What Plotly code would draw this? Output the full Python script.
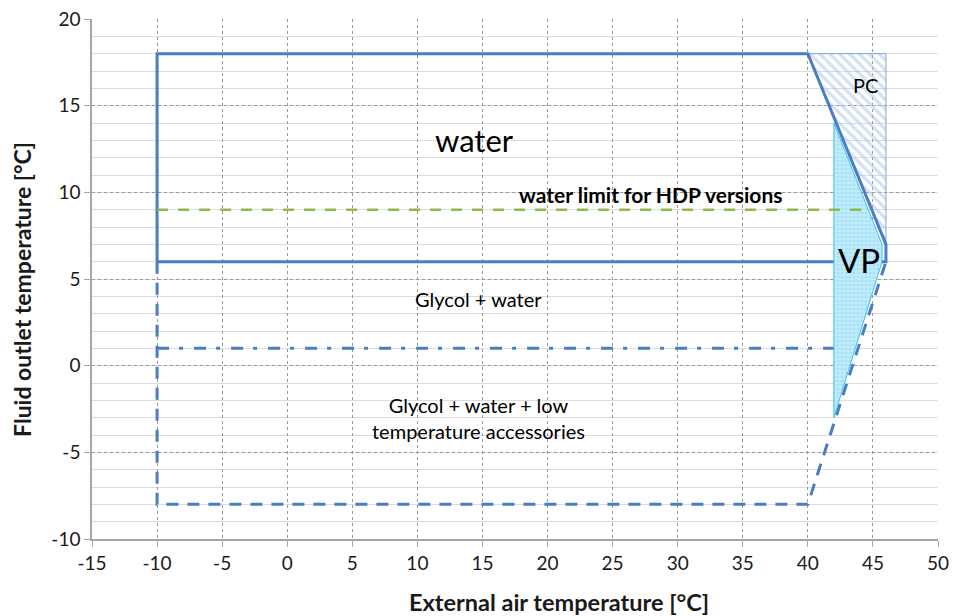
import plotly.graph_objects as go

# Operating envelope outlines (x: external air temp °C, y: fluid outlet temp °C)
water_x = [-10, -10, 40, 46, 46, -10]
water_y = [6, 18, 18, 7, 6, 6]

glycol_x = [-10, -10, 40, 46]
glycol_y = [6, -8, -8, 6]

glycol_limit_x = [-10, 42]
glycol_limit_y = [1, 1]

hdp_x = [-10, 44.9]
hdp_y = [9, 9]

pc_x = [40, 46, 46, 40]
pc_y = [18, 18, 7, 18]

vp_x = [42, 45.7, 45.7, 42, 42]
vp_y = [14, 7, 6, -3, 14]

x_ticks = [-15, -10, -5, 0, 5, 10, 15, 20, 25, 30, 35, 40, 45, 50]
y_ticks = [-10, -5, 0, 5, 10, 15, 20]

labels = [
    dict(text="water", x=14.4, y=13.0, size=31),
    dict(text="<b>water limit for HDP versions</b>", x=27.96, y=9.85, size=21),
    dict(text="PC", x=44.4, y=16.2, size=20),
    dict(text="VP", x=43.9, y=6.1, size=33),
    dict(text="Glycol + water", x=14.7, y=3.85, size=20),
    dict(text="Glycol + water + low<br>temperature accessories", x=14.7, y=-3.0, size=20),
]

BLUE = "#4A7EC2"
FONT = "Lato"

fig = go.Figure()

# PC hatched area
fig.add_trace(go.Scatter(
    x=pc_x, y=pc_y, mode="lines", fill="toself",
    line=dict(color="#7FA7DA", width=1),
    fillcolor="rgba(255,255,255,0)",
    fillpattern=dict(shape="\\", fgcolor="#A9C2E8", bgcolor="rgba(255,255,255,0)", size=7, solidity=0.45),
    hoverinfo="skip", showlegend=False))

# Water envelope
fig.add_trace(go.Scatter(
    x=water_x, y=water_y, mode="lines",
    line=dict(color=BLUE, width=3), hoverinfo="skip", showlegend=False))

# Glycol envelope (dashed)
fig.add_trace(go.Scatter(
    x=glycol_x, y=glycol_y, mode="lines",
    line=dict(color=BLUE, width=3, dash="12px,9px"), hoverinfo="skip", showlegend=False))

# Glycol + water limit (dash-dot)
fig.add_trace(go.Scatter(
    x=glycol_limit_x, y=glycol_limit_y, mode="lines",
    line=dict(color=BLUE, width=3, dash="12px,10px,4px,11px"), hoverinfo="skip", showlegend=False))

# VP dotted area
fig.add_trace(go.Scatter(
    x=vp_x, y=vp_y, mode="lines", fill="toself",
    line=dict(color="#3CC0EE", width=1),
    fillcolor="#B3E6F9",
    fillpattern=dict(shape=".", fgcolor="#86D6F3", bgcolor="#C4ECFB", size=4, solidity=0.45),
    hoverinfo="skip", showlegend=False))

# HDP water limit
fig.add_trace(go.Scatter(
    x=hdp_x, y=hdp_y, mode="lines",
    line=dict(color="#8DBA4A", width=2.5, dash="11px,10px"), hoverinfo="skip", showlegend=False))

for lb in labels:
    fig.add_annotation(x=lb["x"], y=lb["y"], text=lb["text"], showarrow=False,
                       font=dict(family=FONT, size=lb["size"], color="#000000"),
                       align="center", xanchor="center", yanchor="middle")

# axis titles (placed as in the original)
fig.add_annotation(xref="paper", yref="paper", x=0.552, y=0, yshift=-63,
                   text="<b>External air temperature [°C]</b>", showarrow=False,
                   font=dict(family=FONT, size=23.5, color="#1a1a1a"),
                   xanchor="center", yanchor="middle")
fig.add_annotation(xref="paper", yref="paper", x=0, xshift=-70, y=0.479,
                   text="<b>Fluid outlet temperature [°C]</b>", showarrow=False, textangle=-90,
                   font=dict(family=FONT, size=23, color="#1a1a1a"),
                   xanchor="center", yanchor="middle")

fig.update_layout(
    width=955, height=616,
    margin=dict(l=92, r=17, t=19, b=77, autoexpand=False),
    plot_bgcolor="white", paper_bgcolor="white",
    font=dict(family=FONT, size=19, color="#1a1a1a"),
    xaxis=dict(
        automargin=False,
        range=[-15, 50], tickmode="array", tickvals=x_ticks,
        ticktext=[str(v) for v in x_ticks],
        showgrid=True, gridcolor="#9A9A9A", griddash="dot", gridwidth=1,
        showline=True, linecolor="#A6A6A6", linewidth=1.5,
        ticks="outside", ticklen=6, tickcolor="#A6A6A6",
        zeroline=False, tickfont=dict(size=19, color="#1a1a1a"),
    ),
    yaxis=dict(
        automargin=False,
        range=[-10, 20], tickmode="array", tickvals=y_ticks,
        ticktext=[str(v) for v in y_ticks],
        showgrid=True, gridcolor="#9A9A9A", griddash="dot", gridwidth=1,
        minor=dict(dtick=1, showgrid=True, gridcolor="#DCDCDC", gridwidth=1, griddash="solid", ticks=""),
        showline=True, linecolor="#A6A6A6", linewidth=1.5,
        ticks="outside", ticklen=6, tickcolor="#A6A6A6",
        zeroline=False, tickfont=dict(size=19, color="#1a1a1a"),
    ),
)

fig.write_html("out.html")
